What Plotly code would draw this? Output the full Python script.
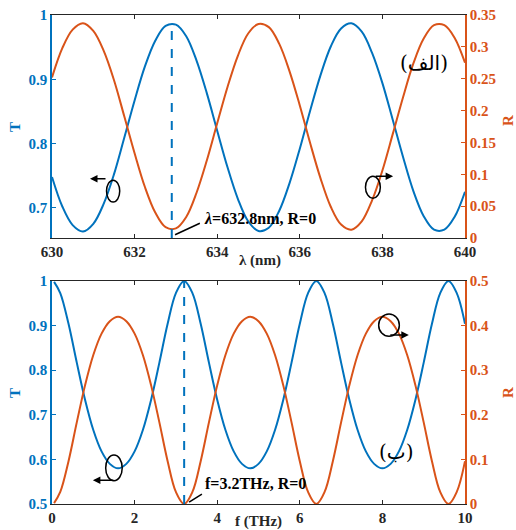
import plotly.graph_objects as go
from plotly.subplots import make_subplots

# ---------------- data ----------------
lam = [630.00, 630.25, 630.50, 630.75, 631.00, 631.25, 631.50, 631.75, 632.00, 632.25,
       632.50, 632.75, 633.00, 633.25, 633.50, 633.75, 634.00, 634.25, 634.50, 634.75,
       635.00, 635.25, 635.50, 635.75, 636.00, 636.25, 636.50, 636.75, 637.00, 637.25,
       637.50, 637.75, 638.00, 638.25, 638.50, 638.75, 639.00, 639.25, 639.50, 639.75, 640.00]
T_lam = [0.748, 0.702, 0.673, 0.663, 0.675, 0.706, 0.752, 0.809, 0.867, 0.920,
         0.960, 0.983, 0.985, 0.967, 0.929, 0.878, 0.820, 0.763, 0.714, 0.679,
         0.664, 0.669, 0.695, 0.738, 0.792, 0.851, 0.906, 0.951, 0.979, 0.987,
         0.974, 0.941, 0.894, 0.837, 0.779, 0.726, 0.687, 0.666, 0.666, 0.686, 0.725]
R_lam = [0.252, 0.298, 0.327, 0.337, 0.325, 0.294, 0.248, 0.191, 0.133, 0.080,
         0.040, 0.017, 0.015, 0.033, 0.071, 0.122, 0.180, 0.237, 0.286, 0.321,
         0.336, 0.331, 0.305, 0.262, 0.208, 0.149, 0.094, 0.049, 0.021, 0.013,
         0.026, 0.059, 0.106, 0.163, 0.221, 0.274, 0.313, 0.334, 0.334, 0.314, 0.275]

freq = [0.05, 0.2, 0.4, 0.6, 0.8, 1.0, 1.2, 1.4, 1.6, 1.8, 2.0, 2.2, 2.4, 2.6, 2.8, 3.0, 3.2,
        3.4, 3.6, 3.8, 4.0, 4.2, 4.4, 4.6, 4.8, 5.0, 5.2, 5.4, 5.6, 5.8, 6.0, 6.2, 6.4,
        6.6, 6.8, 7.0, 7.2, 7.4, 7.6, 7.8, 8.0, 8.2, 8.4, 8.6, 8.8, 9.0, 9.2, 9.4, 9.6,
        9.8, 10.0]
T_f = [0.998, 0.973, 0.904, 0.817, 0.734, 0.666, 0.618, 0.590, 0.580, 0.590, 0.618, 0.666,
       0.734, 0.817, 0.904, 0.973, 1.000,
       0.973, 0.904, 0.817, 0.734, 0.666, 0.618, 0.590, 0.580, 0.590, 0.618, 0.666,
       0.734, 0.817, 0.904, 0.973, 1.000,
       0.973, 0.904, 0.817, 0.734, 0.666, 0.618, 0.590, 0.580, 0.590, 0.618, 0.666,
       0.734, 0.817, 0.904, 0.973, 1.000, 0.973, 0.904]
R_f = [0.002, 0.027, 0.096, 0.183, 0.266, 0.334, 0.382, 0.410, 0.420, 0.410, 0.382, 0.334,
       0.266, 0.183, 0.096, 0.027, 0.000,
       0.027, 0.096, 0.183, 0.266, 0.334, 0.382, 0.410, 0.420, 0.410, 0.382, 0.334,
       0.266, 0.183, 0.096, 0.027, 0.000,
       0.027, 0.096, 0.183, 0.266, 0.334, 0.382, 0.410, 0.420, 0.410, 0.382, 0.334,
       0.266, 0.183, 0.096, 0.027, 0.000, 0.027, 0.096]

lam_ticks = [630, 632, 634, 636, 638, 640]
f_ticks = [0, 2, 4, 6, 8, 10]
T_ticks_top = [0.7, 0.8, 0.9, 1]
R_ticks_top = [0, 0.05, 0.1, 0.15, 0.2, 0.25, 0.3, 0.35]
T_ticks_bot = [0.5, 0.6, 0.7, 0.8, 0.9, 1]
R_ticks_bot = [0, 0.1, 0.2, 0.3, 0.4, 0.5]

lam_mark = 632.9
f_mark = 3.2

BLUE = "#0072BD"
ORANGE = "#D95319"
DARK = "#262626"
SERIF = "Liberation Serif, Times New Roman, serif"

fig = make_subplots(rows=2, cols=1, specs=[[{"secondary_y": True}], [{"secondary_y": True}]],
                    vertical_spacing=0.088)

fig.add_trace(go.Scatter(x=lam, y=T_lam, mode="lines", line=dict(color=BLUE, width=2, shape="spline"),
                         showlegend=False), row=1, col=1, secondary_y=False)
fig.add_trace(go.Scatter(x=lam, y=R_lam, mode="lines", line=dict(color=ORANGE, width=2, shape="spline"),
                         showlegend=False), row=1, col=1, secondary_y=True)
fig.add_trace(go.Scatter(x=freq, y=T_f, mode="lines", line=dict(color=BLUE, width=2, shape="spline"),
                         showlegend=False), row=2, col=1, secondary_y=False)
fig.add_trace(go.Scatter(x=freq, y=R_f, mode="lines", line=dict(color=ORANGE, width=2, shape="spline"),
                         showlegend=False), row=2, col=1, secondary_y=True)

tickf = lambda c: dict(family=SERIF, size=15, color=c, weight="bold")

common_x = dict(showgrid=False, zeroline=False, ticks="inside", ticklen=4, tickwidth=1,
                tickcolor=DARK, linecolor=DARK, linewidth=1.2, showline=True, mirror="ticks",
                tickfont=tickf(DARK), automargin=False, domain=[0, 1],
                ticklabeloverflow="allow")
fig.update_xaxes(range=[630, 640], tickvals=lam_ticks, row=1, col=1, **common_x)
fig.update_xaxes(range=[0, 10], tickvals=f_ticks, row=2, col=1, **common_x)

common_y = dict(showgrid=False, zeroline=False, ticks="inside", ticklen=4, tickwidth=1,
                showline=True, linewidth=1.5, automargin=False, ticklabeloverflow="allow")
TOP_DOM = [0.544, 1.0]
BOT_DOM = [0.0, 0.456]
fig.update_yaxes(range=[0.653, 1], tickvals=T_ticks_top, row=1, col=1, secondary_y=False,
                 linecolor=BLUE, tickcolor=BLUE, tickfont=tickf(BLUE), domain=TOP_DOM, **common_y)
fig.update_yaxes(range=[0, 0.35], tickvals=R_ticks_top, row=1, col=1, secondary_y=True,
                 linecolor=ORANGE, tickcolor=ORANGE, tickfont=tickf(ORANGE), **common_y)
fig.update_yaxes(range=[0.5, 1], tickvals=T_ticks_bot, row=2, col=1, secondary_y=False,
                 linecolor=BLUE, tickcolor=BLUE, tickfont=tickf(BLUE), domain=BOT_DOM, **common_y)
fig.update_yaxes(range=[0, 0.5], tickvals=R_ticks_bot, row=2, col=1, secondary_y=True,
                 linecolor=ORANGE, tickcolor=ORANGE, tickfont=tickf(ORANGE), **common_y)

XT, YT = "x", "y"      # top panel refs
XB, YB = "x2", "y3"    # bottom panel refs

def ann(text, x, y, xref="paper", yref="paper", size=15, color=DARK, angle=0, family=SERIF,
        xanchor="center", yanchor="middle", **kw):
    fig.add_annotation(text=text, x=x, y=y, xref=xref, yref=yref, showarrow=False,
                       font=dict(family=family, size=size, color=color, weight="bold"),
                       textangle=angle, xanchor=xanchor, yanchor=yanchor, **kw)

ann("T", -0.0896, 0.771, color=BLUE, angle=-90)
ann("R", 1.104, 0.785, color=ORANGE, angle=-90)
ann("T", -0.0896, 0.227, color=BLUE, angle=-90)
ann("R", 1.104, 0.229, color=ORANGE, angle=-90)
ann("λ (nm)", 635.04, 0.653, xref=XT, yref=YT, yshift=-23)
ann("f (THz)", 4.99, 0.5, xref=XB, yref=YB, yshift=-18)

# dashed markers
fig.add_shape(type="line", x0=lam_mark, x1=lam_mark, y0=0.653, y1=0.987, xref=XT, yref=YT,
              line=dict(color=BLUE, width=2, dash="dash"))
fig.add_shape(type="line", x0=f_mark, x1=f_mark, y0=0.5, y1=1.0, xref=XB, yref=YB,
              line=dict(color=BLUE, width=2, dash="dash"))

# pointer lines and labels
fig.add_shape(type="line", x0=632.98, y0=0.658, x1=633.58, y1=0.676, xref=XT, yref=YT,
              line=dict(color="black", width=1.5))
ann("<i>λ</i>=632.8nm, R=0", 633.62, 0.684, xref=XT, yref=YT, size=16, color="black",
    xanchor="left")
fig.add_shape(type="line", x0=3.32, y0=0.504, x1=3.63, y1=0.522, xref=XB, yref=YB,
              line=dict(color="black", width=1.5))
ann("f=3.2THz, R=0", 3.66, 0.547, xref=XB, yref=YB, size=16, color="black", xanchor="left")

# axis-pointer ellipses with arrows
def ellipse(xc, yc, w, h, xref, yref):
    fig.add_shape(type="circle", x0=xc - w / 2, x1=xc + w / 2, y0=yc - h / 2, y1=yc + h / 2,
                  xref=xref, yref=yref, line=dict(color="black", width=1.5))

def arrow(x, y, ax, xref, yref):
    fig.add_annotation(x=x, y=y, xref=xref, yref=yref, ax=ax, ay=0, text="", showarrow=True,
                       arrowhead=2, arrowsize=1, arrowwidth=1.5, arrowcolor="black")

ellipse(631.48, 0.726, 0.32, 0.034, XT, YT)
arrow(630.92, 0.745, 17, XT, YT)
ellipse(637.77, 0.732, 0.36, 0.034, XT, YT)
arrow(638.26, 0.749, -19, XT, YT)
ellipse(1.50, 0.581, 0.40, 0.058, XB, YB)
arrow(0.99, 0.553, 22, XB, YB)
ellipse(8.16, 0.901, 0.50, 0.050, XB, YB)
arrow(8.64, 0.879, -20, XB, YB)

# Arabic panel labels
fig.add_annotation(text="(الف)", x=0.90, y=0.902, xref="paper", yref="paper", showarrow=False,
                   xanchor="center", yanchor="middle",
                   font=dict(family="DejaVu Serif, DejaVu Sans", size=20, color="black"))
fig.add_annotation(text="(ب)", x=0.833, y=0.106, xref="paper", yref="paper", showarrow=False,
                   xanchor="center", yanchor="middle",
                   font=dict(family="DejaVu Serif, DejaVu Sans", size=20, color="black"))

fig.update_layout(width=516, height=530, margin=dict(l=52, r=51, t=15, b=26),
                  plot_bgcolor="white", paper_bgcolor="white", showlegend=False)

# remove the default page margin so the figure sits at the window's corner
fig.write_html("out.html", config={"displayModeBar": False},
               post_script="document.body.style.margin='0';document.body.style.overflow='hidden';")
